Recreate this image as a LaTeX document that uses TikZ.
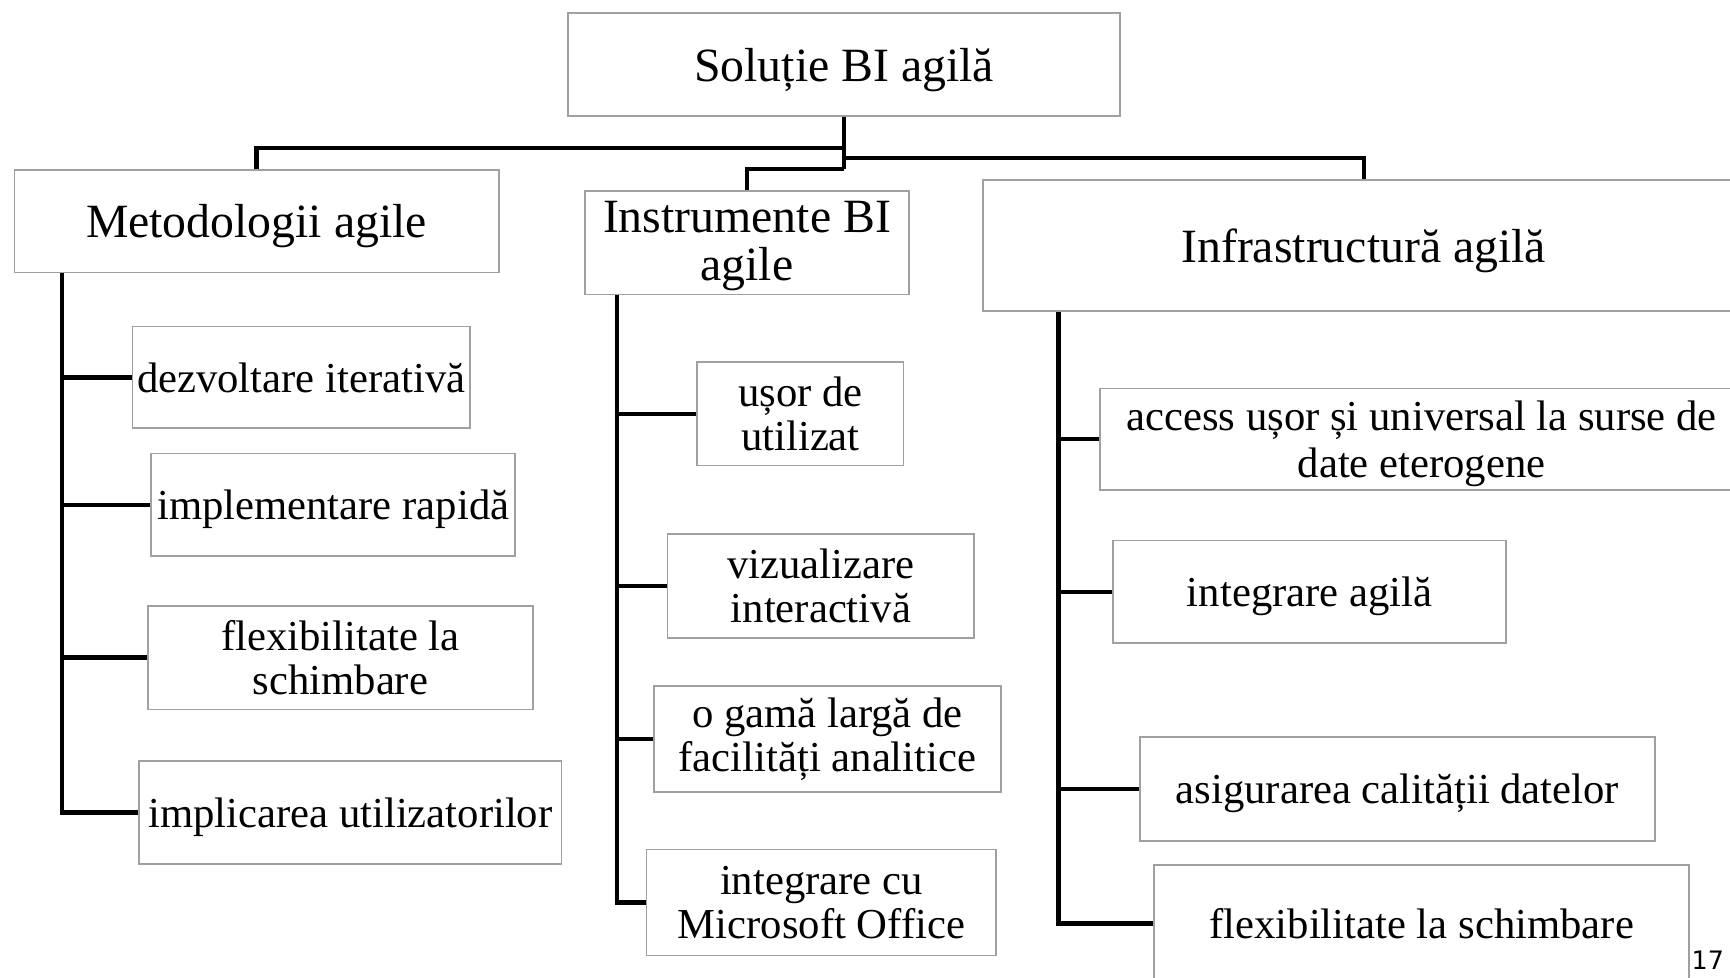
\documentclass[tikz,border=0pt]{standalone}
\usepackage{fontspec}
\setmainfont{Liberation Serif}
\newfontfamily\numfont{DejaVu Sans}
\definecolor{boxgray}{RGB}{160,160,160}
\begin{document}
\begin{tikzpicture}[x=1pt,y=-1pt,
  box/.style={draw=boxgray, line width=1.5pt, fill=white, inner sep=0pt, align=center,
    font=\fontsize{38.7}{40}\selectfont},
  head/.style={box, font=\fontsize{43.3}{44}\selectfont},
  one/.style={text depth=0pt},
  conn/.style={line width=4pt, draw=black}]
\useasboundingbox (0,0) rectangle (1568,886);
\clip (0,0) rectangle (1568,886);
\fill[white] (0,0) rectangle (1568,886);
% top level
\node[head, one, minimum width=500pt, minimum height=93pt] (root) at (765,58.5) {Soluție BI agilă};
\node[head, one, minimum width=439pt, minimum height=93pt] (met) at (232.5,200.5) {Metodologii agile};
\node[head, text depth=3pt, minimum width=294pt, minimum height=94pt] (ins) at (677,220) {Instrumente BI\\agile};
\node[head, one, minimum width=690pt, minimum height=119pt] (inf) at (1236,222.5) {Infrastructură agilă};
% left column
\node[box, one, minimum width=306pt, minimum height=92pt] (m1) at (273,342) {dezvoltare iterativă};
\node[box, one, minimum width=330pt, minimum height=93pt] (m2) at (302,457.5) {implementare rapidă};
\node[box, minimum width=349pt, minimum height=94pt] (m3) at (308.5,596) {flexibilitate la\\schimbare};
\node[box, one, minimum width=383pt, minimum height=93pt] (m4) at (317.5,736.5) {implicarea utilizatorilor};
% middle column
\node[box, minimum width=187pt, minimum height=94pt] (i1) at (725.5,375) {ușor de\\utilizat};
\node[box, minimum width=278pt, minimum height=94pt] (i2) at (744,531) {vizualizare\\interactivă};
\node[box, minimum width=314pt, minimum height=96pt] (i3) at (750,670) {o gamă largă de\\facilități analitice};
\node[box, minimum width=317pt, minimum height=96pt] (i4) at (744.5,818) {integrare cu\\Microsoft Office};
% right column
\node[box, font=\fontsize{38.7}{43}\selectfont, text depth=-3pt, minimum width=583pt, minimum height=92pt] (r1) at (1288.5,398) {access ușor și universal la surse de\\date eterogene};
\node[box, one, minimum width=356pt, minimum height=93pt] (r2) at (1187,536.5) {integrare agilă};
\node[box, one, minimum width=467pt, minimum height=94pt] (r3) at (1266.5,715) {asigurarea calității datelor};
\node[box, one, minimum width=485pt, minimum height=106pt] (r4) at (1288.5,837) {flexibilitate la schimbare};
% page number
\node[font=\numfont\fontsize{23}{24}\selectfont, anchor=base west, inner sep=0pt] (pg) at (1533,879) {17};
% connectors, top
\coordinate (j1) at (765,134);
\coordinate (j2) at (765,143);
\coordinate (j3) at (765,153);
\draw[conn] (root.south) -- (j3);
\draw[conn] (j1) -| (met.north);
\draw[conn] (j2) -| (inf.north);
\draw[conn] (j3) -| (ins.north);
% left trunk
\path (met.south west) ++(44,0) coordinate (mt);
\draw[conn] (mt) |- (m4.west);
\draw[conn] (mt |- m1.west) -- (m1.west);
\draw[conn] (mt |- m2.west) -- (m2.west);
\draw[conn] (mt |- m3.west) -- (m3.west);
% middle trunk
\path (ins.south west) ++(30,0) coordinate (it);
\draw[conn] (it) |- (i4.west);
\draw[conn] (it |- i1.west) -- (i1.west);
\draw[conn] (it |- i2.west) -- (i2.west);
\draw[conn] (it |- i3.west) -- (i3.west);
% right trunk
\path (inf.south west) ++(69,0) coordinate (rt);
\draw[conn] (rt) |- (r4.west);
\draw[conn] (rt |- r1.west) -- (r1.west);
\draw[conn] (rt |- r2.west) -- (r2.west);
\draw[conn] (rt |- r3.west) -- (r3.west);
\end{tikzpicture}
\end{document}
